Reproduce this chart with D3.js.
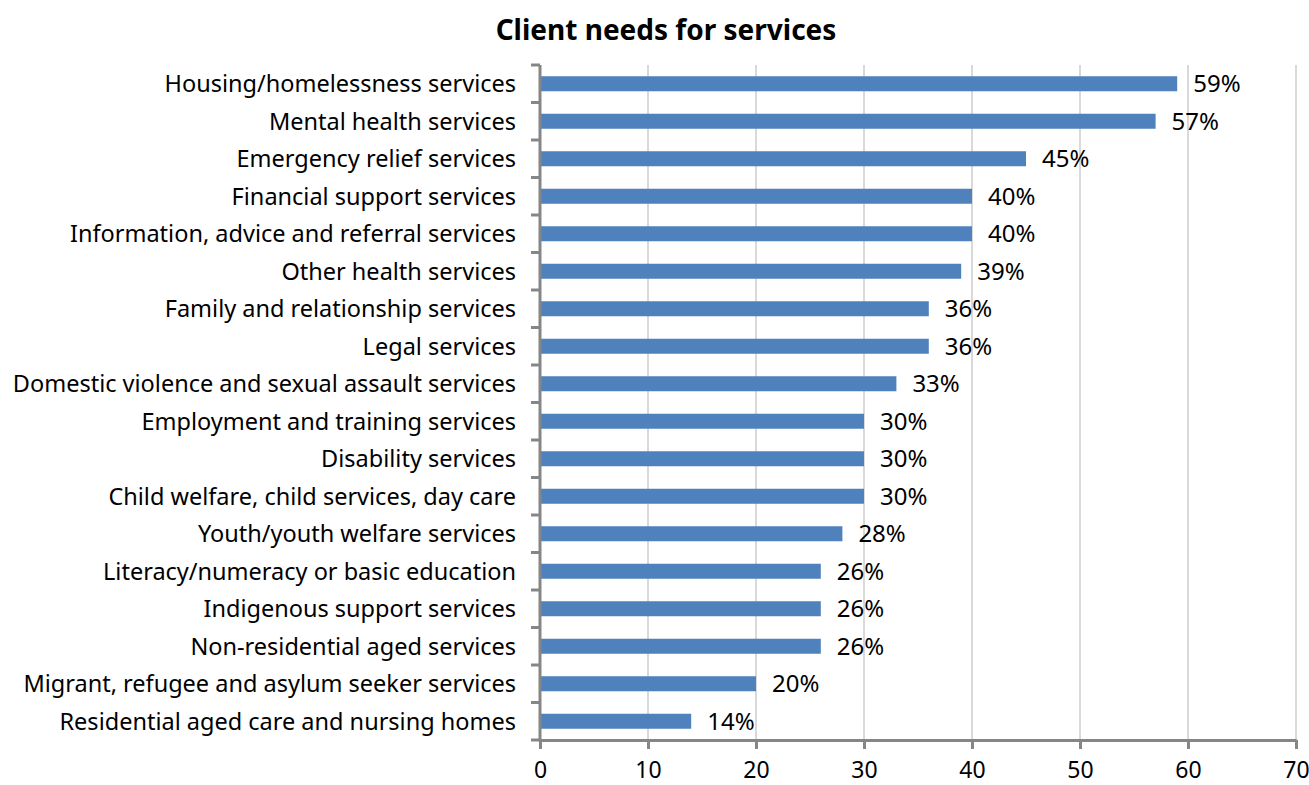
<!DOCTYPE html>
<html>
<head>
<meta charset="utf-8">
<script src="https://cdn.jsdelivr.net/npm/d3@7"></script>
<style>
  body { margin: 0; background: #fff; }
  text { font-family: "Noto Sans", sans-serif; }
</style>
</head>
<body>
<script>
// client needs chart
const categories = [
  'Housing/homelessness services',
  'Mental health services',
  'Emergency relief services',
  'Financial support services',
  'Information, advice and referral services',
  'Other health services',
  'Family and relationship services',
  'Legal services',
  'Domestic violence and sexual assault services',
  'Employment and training services',
  'Disability services',
  'Child welfare, child services, day care',
  'Youth/youth welfare services',
  'Literacy/numeracy or basic education',
  'Indigenous support services',
  'Non-residential aged services',
  'Migrant, refugee and asylum seeker services',
  'Residential aged care and nursing homes'
]
const values = [59, 57, 45, 40, 40, 39, 36, 36, 33, 30, 30, 30, 28, 26, 26, 26, 20, 14]
const xTicks = [0, 10, 20, 30, 40, 50, 60, 70]
const title = 'Client needs for services'

const w = 1309
const h = 785
const pLeft = 540, pRight = 1296, pTop = 65, pBottom = 740

const svg = d3.select('body')
  .append('svg')
  .attr('width', w)
  .attr('height', h)

const x = d3.scaleLinear().domain([0, 70]).range([pLeft, pRight])
const y = d3.scaleBand().domain(categories).range([pTop, pBottom]).paddingInner(0.6).paddingOuter(0.3)

// gridlines
svg.selectAll('line.grid')
  .data(xTicks.slice(1))
  .enter()
  .append('line')
  .attr('class', 'grid')
  .attr('x1', d => x(d))
  .attr('x2', d => x(d))
  .attr('y1', pTop)
  .attr('y2', pBottom)
  .attr('stroke', '#d9d9d9')
  .attr('stroke-width', 2)

svg.selectAll('rect')
  .data(values)
  .enter()
  .append('rect')
  .attr('x', x(0))
  .attr('y', (d, i) => y(categories[i]))
  .attr('width', d => x(d) - x(0))
  .attr('height', y.bandwidth())
  .attr('fill', '#4f81bd')

svg.selectAll('text.val')
  .data(values)
  .enter()
  .append('text')
  .attr('class', 'val')
  .attr('x', d => x(d) + 16)
  .attr('y', (d, i) => y(categories[i]) + y.bandwidth() / 2)
  .attr('dy', '0.36em')
  .attr('font-size', 24)
  .text(d => d + '%')

// x axis
const xAxis = svg.append('g')
  .attr('transform', `translate(0,${pBottom})`)
  .call(d3.axisBottom(x).tickValues(xTicks).tickSize(9).tickPadding(13).tickSizeOuter(0))
xAxis.select('.domain').attr('stroke', '#868686').attr('stroke-width', 3)
xAxis.selectAll('.tick line').attr('stroke', '#868686').attr('stroke-width', 3)
xAxis.selectAll('text').attr('font-size', 23).attr('fill', '#000').attr('font-family', '"Noto Sans", sans-serif')

// y axis with ticks between categories
const yBounds = d3.range(categories.length + 1).map(i => pTop + i * (pBottom - pTop) / categories.length)
svg.append('line')
  .attr('x1', pLeft).attr('x2', pLeft)
  .attr('y1', pTop).attr('y2', pBottom + 1.5)
  .attr('stroke', '#868686').attr('stroke-width', 3)
svg.selectAll('line.ytick')
  .data(yBounds)
  .enter()
  .append('line')
  .attr('class', 'ytick')
  .attr('x1', pLeft - 9).attr('x2', pLeft)
  .attr('y1', d => d).attr('y2', d => d)
  .attr('stroke', '#868686').attr('stroke-width', 3)

svg.selectAll('text.cat')
  .data(categories)
  .enter()
  .append('text')
  .attr('class', 'cat')
  .attr('x', 516)
  .attr('y', d => y(d) + y.bandwidth() / 2)
  .attr('dy', '0.36em')
  .attr('text-anchor', 'end')
  .attr('font-size', 23.5)
  .text(d => d)

svg.append('text')
  .attr('x', 666)
  .attr('y', 40)
  .attr('text-anchor', 'middle')
  .attr('font-size', 28)
  .attr('font-weight', 'bold')
  .text(title)
</script>
</body>
</html>
